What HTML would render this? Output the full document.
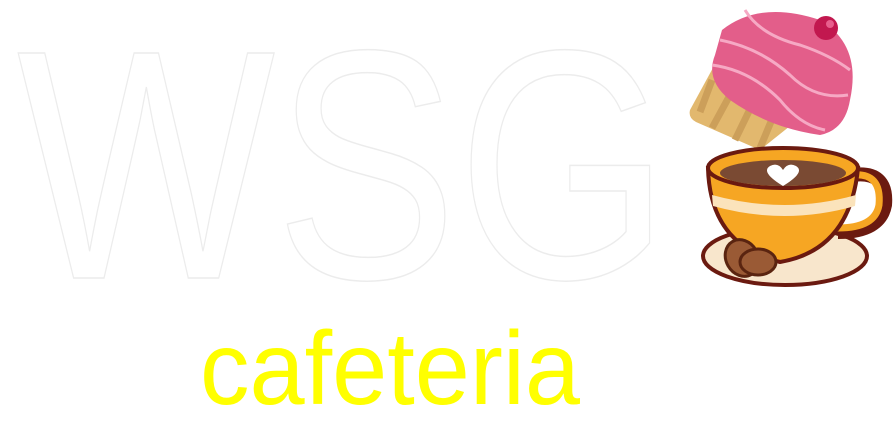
<!DOCTYPE html>
<html><head><meta charset="utf-8"><style>
html,body{margin:0;padding:0;background:#fff;width:893px;height:432px;overflow:hidden}
svg{display:block}
</style></head><body>
<svg width="893" height="432" viewBox="0 0 893 432">
<text x="17" y="278" font-family="Liberation Sans, sans-serif" font-size="327" fill="#ffffff" stroke="#ececec" stroke-width="1.5" textLength="653" lengthAdjust="spacingAndGlyphs">WSG</text>
<text x="200" y="404" font-family="Liberation Sans, sans-serif" font-size="104" fill="#ffff00" textLength="380" lengthAdjust="spacingAndGlyphs">cafeteria</text>
<g>
 <path d="M720 55 L690 110 Q688 118 696 122 L760 150 L800 118 Z" fill="#e2b86e"/>
 <path d="M712 80 L700 112 M730 95 L712 128 M752 105 L735 140 M775 112 L760 148" stroke="#cc9f5a" stroke-width="7"/>
 <path d="M722 30 Q760 0 820 20 Q862 45 850 100 Q845 130 820 135 Q770 128 730 100 Q705 80 715 55 Z" fill="#e35e8a"/>
 <path d="M720 40 Q760 48 790 75 Q815 100 848 95 M712 65 Q750 70 780 100 Q800 125 825 130 M745 10 Q760 35 800 45 Q830 55 850 70" stroke="#f6a9c4" stroke-width="3" fill="none"/>
 <circle cx="826" cy="28" r="12" fill="#c2184f"/>
 <circle cx="830" cy="24" r="4" fill="#e85f8d"/>
</g>
<g>
 <ellipse cx="785" cy="256" rx="82" ry="29" fill="#f8e6cc" stroke="#6b1a10" stroke-width="4"/>
 <path d="M852 175 Q888 170 885 205 Q880 232 838 232" fill="none" stroke="#6b1a10" stroke-width="14"/>
 <path d="M852 175 Q882 172 879 205 Q875 228 838 228" fill="none" stroke="#f6a623" stroke-width="7"/>
 <path d="M708 168 Q710 245 780 262 Q850 250 858 168 Z" fill="#f6a623" stroke="#6b1a10" stroke-width="4"/>
 <path d="M712 195 Q785 215 856 195 L855 206 Q785 226 713 206 Z" fill="#fbe3bb"/>
 <ellipse cx="783" cy="168" rx="75" ry="20" fill="#f6a623" stroke="#6b1a10" stroke-width="4"/>
 <ellipse cx="783" cy="173" rx="63" ry="13" fill="#7a4a33"/>
 <path d="M783 186 Q760 172 770 166 Q778 162 783 170 Q788 162 796 166 Q806 172 783 186 Z" fill="#fff"/>
 <ellipse cx="742" cy="258" rx="16" ry="19" transform="rotate(-30 742 258)" fill="#9a5a35" stroke="#5a2410" stroke-width="3"/>
 <ellipse cx="758" cy="262" rx="18" ry="13" fill="#9a5a35" stroke="#5a2410" stroke-width="3"/>
</g>
</svg>
</body></html>
